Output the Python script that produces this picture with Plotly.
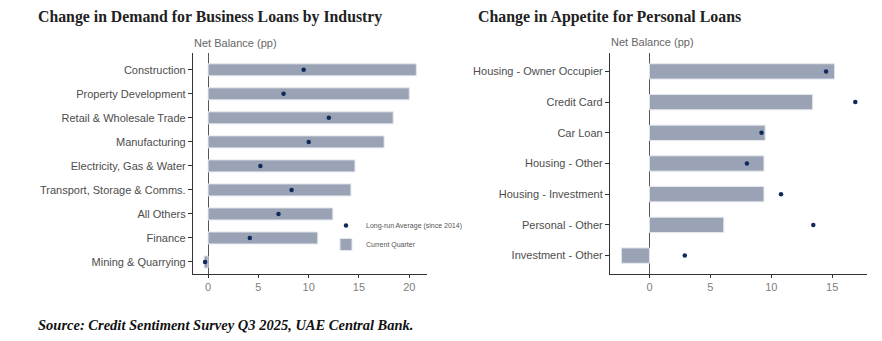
import plotly.graph_objects as go

# ---- Data ----
biz_categories = ["Mining & Quarrying", "Finance", "All Others", "Transport, Storage & Comms.",
                  "Electricity, Gas & Water", "Manufacturing", "Retail & Wholesale Trade",
                  "Property Development", "Construction"]
biz_current = [-0.4, 10.9, 12.4, 14.2, 14.6, 17.5, 18.4, 20.0, 20.7]
biz_longrun = [-0.3, 4.15, 7.0, 8.3, 5.2, 10.0, 12.0, 7.5, 9.5]

pers_categories = ["Investment - Other", "Personal - Other", "Housing - Investment", "Housing - Other",
                   "Car Loan", "Credit Card", "Housing - Owner Occupier"]
pers_current = [-2.3, 6.1, 9.4, 9.4, 9.5, 13.4, 15.2]
pers_longrun = [2.9, 13.45, 10.8, 8.0, 9.2, 16.9, 14.5]

x_ticks = [0, 5, 10, 15, 20]

BAR_COLOR = "#9AA3B5"
BAR_EDGE = "#E4E7EC"
DOT_COLOR = "#0E2A5C"
SANS = "Liberation Sans, Arial, sans-serif"
SERIF = "Liberation Serif, Times New Roman, serif"

W, H = 882, 341

def px(v):
    return v / W

def py(v):
    return 1 - v / H

fig = go.Figure()

# left panel
fig.add_trace(go.Scatter(x=biz_longrun, y=biz_categories, mode="markers",
                         marker=dict(color=DOT_COLOR, size=4.5),
                         name="Long-run Average (since 2014)", xaxis="x", yaxis="y",
                         showlegend=True))
fig.add_trace(go.Bar(x=biz_current, y=biz_categories, orientation="h", width=0.5,
                     marker=dict(color=BAR_COLOR, line=dict(color=BAR_EDGE, width=1)),
                     name="Current Quarter", xaxis="x", yaxis="y", showlegend=True))
# right panel
fig.add_trace(go.Scatter(x=pers_longrun, y=pers_categories, mode="markers",
                         marker=dict(color=DOT_COLOR, size=4.5),
                         name="Long-run Average (since 2014)", xaxis="x2", yaxis="y2",
                         showlegend=False))
fig.add_trace(go.Bar(x=pers_current, y=pers_categories, orientation="h", width=0.5,
                     marker=dict(color=BAR_COLOR, line=dict(color=BAR_EDGE, width=1)),
                     name="Current Quarter", xaxis="x2", yaxis="y2", showlegend=False))

ydom = [py(274), py(53)]

xcommon = dict(showgrid=False, zeroline=True, zerolinecolor="#555555", zerolinewidth=1,
               showline=True, linecolor="#333333", linewidth=1.2, ticks="outside",
               ticklen=3, tickcolor="#333333", tickwidth=1,
               tickfont=dict(family=SANS, size=11, color="#808080"),
               tickvals=x_ticks, fixedrange=True)
ycommon = dict(showgrid=False, zeroline=False, showline=True, linecolor="#333333",
               linewidth=1.2, ticks="outside", ticklen=4, tickcolor="#333333", tickwidth=1,
               tickfont=dict(family=SANS, size=11, color="#4D4D4D"), type="category",
               fixedrange=True)

fig.update_layout(
    width=W, height=H,
    margin=dict(l=0, r=0, t=0, b=0),
    paper_bgcolor="white", plot_bgcolor="white",
    barmode="overlay",
    xaxis=dict(domain=[px(193), px(427)], range=[-1.5, 21.76], anchor="y", **xcommon),
    yaxis=dict(domain=ydom, range=[-0.5, 8.7], anchor="x",
               categoryorder="array", categoryarray=biz_categories, **ycommon),
    xaxis2=dict(domain=[px(610), px(867)], range=[-3.24, 17.86], anchor="y2", **xcommon),
    yaxis2=dict(domain=ydom, range=[-0.6, 6.6], anchor="x2",
                categoryorder="array", categoryarray=pers_categories, **ycommon),
    legend=dict(x=px(326), y=py(211), xanchor="left", yanchor="top",
                font=dict(family=SANS, size=7, color="#555555"),
                bgcolor="rgba(0,0,0,0)", tracegroupgap=0, itemwidth=30),
    showlegend=True,
)

annotations = [
    dict(text="<b>Change in Demand for Business Loans by Industry</b>", x=px(36), y=py(17),
         xref="paper", yref="paper", xanchor="left", yanchor="middle", showarrow=False,
         font=dict(family=SERIF, size=15.8, color="#222222")),
    dict(text="<b>Change in Appetite for Personal Loans</b>", x=px(476), y=py(17),
         xref="paper", yref="paper", xanchor="left", yanchor="middle", showarrow=False,
         font=dict(family=SERIF, size=15.9, color="#222222")),
    dict(text="Net Balance (pp)", x=px(192), y=py(43), xref="paper", yref="paper",
         xanchor="left", yanchor="middle", showarrow=False,
         font=dict(family=SANS, size=11, color="#666666")),
    dict(text="Net Balance (pp)", x=px(609), y=py(42), xref="paper", yref="paper",
         xanchor="left", yanchor="middle", showarrow=False,
         font=dict(family=SANS, size=11, color="#666666")),
    dict(text="<b><i>Source: Credit Sentiment Survey Q3 2025, UAE Central Bank.</i></b>",
         x=px(36), y=py(325), xref="paper", yref="paper", xanchor="left", yanchor="middle",
         showarrow=False, font=dict(family=SERIF, size=14.5, color="#111111")),
]
fig.update_layout(annotations=annotations)

fig.write_html("out.html")
